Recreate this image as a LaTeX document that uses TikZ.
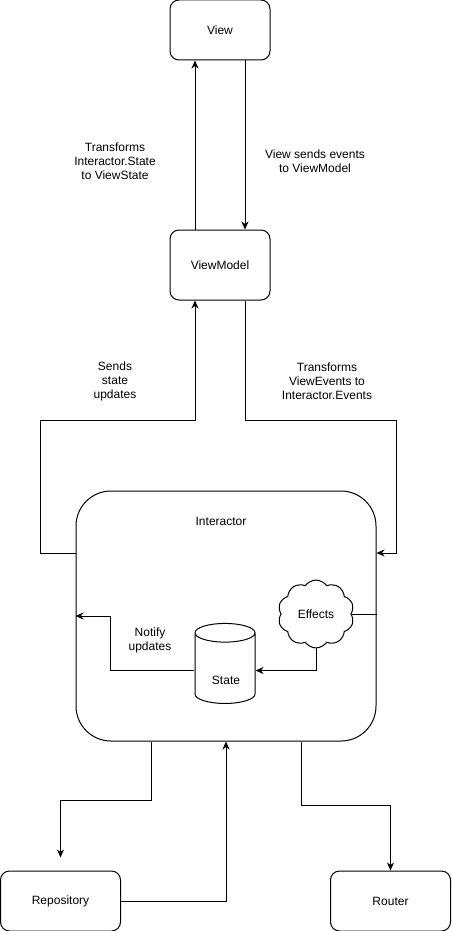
\documentclass[tikz,border=0pt]{standalone}
\usepackage{fontspec}
\setmainfont{Liberation Sans}
\usepackage{tikz}
\usetikzlibrary{arrows.meta, positioning, shapes.geometric, shapes.symbols}
\tikzset{x = 1pt, y = -1pt,
         >= {Stealth[length = 8pt, width = 7pt, inset = 2.5pt]},
         every node/.style = {font = \fontsize{12}{14}\selectfont},
         every path/.style = {line width = 1pt},
         box/.style = {draw, rounded corners = 9pt,
                       minimum width = 100pt, minimum height = 60pt},
         bigbox/.style = {draw, rounded corners = 35pt,
                          minimum width = 300pt, minimum height = 250pt},
         store/.style = {draw, cylinder, shape border rotate = 90,
                         aspect = 2.8, minimum width = 60pt,
                         minimum height = 80pt},
         puff/.style = {draw, cloud, cloud puffs = 10, cloud puff arc = 110,
                        minimum width = 76pt, minimum height = 56pt},
         note/.style = {align = center}}

\begin{document}
\begin{tikzpicture}
        \useasboundingbox (0,0) rectangle (451,931);

        \node[box]                        (view)    at (220,30)    {View};
        \node[box, minimum height = 70pt] (vm)      at (220,265)   {ViewModel};
        \node[bigbox]                     (inter)   at (226,616)   {};
        \node                             (ititle)  at (221,521)   {Interactor};
        \node[store]                      (state)   at (225,670.5) {};
        \node                             (stitle)  at (226,680)   {State};
        \node[puff]                       (effects) at (316,614)   {Effects};
        \node[box, minimum width = 120pt] (repo)    at (60.5,901)  {Repository};
        \node[box, minimum width = 120pt] (router)  at (390.5,901) {Router};

        \node[note] (lstate)  at (115,161) {Transforms\\Interactor.State\\to ViewState};
        \node[note] (levents) at (315,161) {View sends events\\to ViewModel};
        \node[note] (lsends)  at (115,381) {Sends\\state\\updates};
        \node[note] (ltrans)  at (327,381) {Transforms\\ViewEvents to\\Interactor.Events};
        \node[note] (lnotify) at (150,640) {Notify\\updates};

        % view <-> view model
        \draw[->] ([xshift = -25pt]vm.north) -- ([xshift = -25pt]view.south);
        \draw[->] ([xshift = 25pt]view.south) -- ([xshift = 25pt]vm.north);

        % view model <-> interactor
        \draw[->] ([yshift = 63pt]inter.west) -| (40,420) -| ([xshift = -25pt]vm.south);
        \draw[->] ([xshift = 25pt]vm.south) |- (396,420) |- ([yshift = 63pt]inter.east);

        % inside the interactor
        \draw     (effects.east) -- (effects.east -| inter.east);
        \draw[->] (effects.south) |- (state.east);
        \draw[->] (state.west) -| ([xshift = 35pt]inter.west) -- (inter.west);

        % repository and router
        \draw[->] ([xshift = -75pt]inter.south) -- ++(0,59) -| ([yshift = 13pt]repo.north);
        \draw[->] (repo.east) -| (inter.south);
        \draw[->] ([xshift = 75pt]inter.south) -- ++(0,64) -| (router.north);
\end{tikzpicture}
\end{document}
